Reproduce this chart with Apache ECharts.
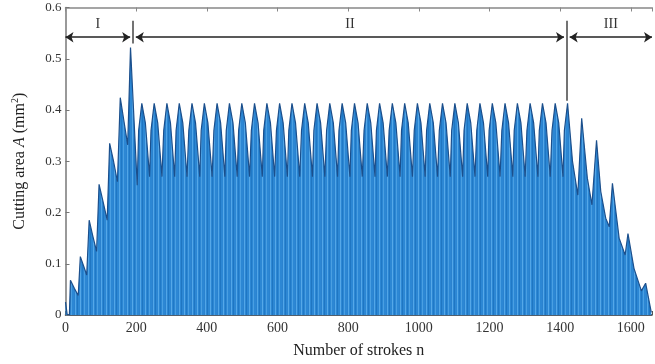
<!DOCTYPE html>
<html>
<head>
<meta charset="utf-8">
<script src="https://cdn.jsdelivr.net/npm/echarts@6/dist/echarts.min.js"></script>
<style>
html,body{margin:0;padding:0;background:#fff;}
#chart{width:655px;height:364px;}
</style>
</head>
<body>
<div id="chart"></div>
<script>
// Key points of the cutting-area curve (stroke number n, area A in mm^2)
const strokeN = [
  0, 5, 11, 14, 25, 36, 42, 51, 60, 67, 77, 88, 95, 106, 118, 125, 136, 147, 155, 165, 176, 184, 194, 203, 207,
  216, 226, 238, 242,   251, 261, 273, 278,   287, 297, 309, 313,   322, 332, 344, 349,
  358, 368, 380, 384,   393, 403, 415, 420,   429, 439, 451, 455,   464, 474, 486, 490,
  499, 509, 521, 526,   535, 545, 557, 561,   570, 580, 592, 597,   606, 616, 628, 632,
  641, 651, 663, 668,   677, 687, 699, 703,   712, 722, 734, 739,   748, 758, 770, 774,
  783, 793, 805, 809,   818, 828, 840, 845,   854, 864, 876, 880,   889, 899, 911, 916,
  925, 935, 947, 951,   960, 970, 982, 987,   996, 1006, 1018, 1022, 1031, 1041, 1053, 1058,
  1067, 1077, 1089, 1093, 1102, 1112, 1124, 1128, 1137, 1147, 1159, 1164, 1173, 1183, 1195, 1199,
  1208, 1218, 1230, 1235, 1244, 1254, 1266, 1270, 1279, 1289, 1301, 1306, 1315, 1325, 1337, 1341,
  1350, 1360, 1372, 1377, 1386, 1396, 1408, 1412,
  1421, 1435, 1450, 1461, 1477, 1490, 1503, 1515, 1529, 1539, 1548, 1567, 1584, 1592, 1609, 1630, 1642, 1658
];
const cutArea = [
  0.025, 0, 0, 0.068, 0.052, 0.038, 0.114, 0.096, 0.078, 0.185, 0.155, 0.124, 0.255, 0.222, 0.185, 0.335, 0.300, 0.260, 0.424, 0.380, 0.332, 0.522, 0.380, 0.253, 0.36,
  0.413, 0.375, 0.27, 0.36,   0.413, 0.375, 0.27, 0.36,   0.413, 0.375, 0.27, 0.36,   0.413, 0.375, 0.27, 0.36,
  0.413, 0.375, 0.27, 0.36,   0.413, 0.375, 0.27, 0.36,   0.413, 0.375, 0.27, 0.36,   0.413, 0.375, 0.27, 0.36,
  0.413, 0.375, 0.27, 0.36,   0.413, 0.375, 0.27, 0.36,   0.413, 0.375, 0.27, 0.36,   0.413, 0.375, 0.27, 0.36,
  0.413, 0.375, 0.27, 0.36,   0.413, 0.375, 0.27, 0.36,   0.413, 0.375, 0.27, 0.36,   0.413, 0.375, 0.27, 0.36,
  0.413, 0.375, 0.27, 0.36,   0.413, 0.375, 0.27, 0.36,   0.413, 0.375, 0.27, 0.36,   0.413, 0.375, 0.27, 0.36,
  0.413, 0.375, 0.27, 0.36,   0.413, 0.375, 0.27, 0.36,   0.413, 0.375, 0.27, 0.36,   0.413, 0.375, 0.27, 0.36,
  0.413, 0.375, 0.27, 0.36,   0.413, 0.375, 0.27, 0.36,   0.413, 0.375, 0.27, 0.36,   0.413, 0.375, 0.27, 0.36,
  0.413, 0.375, 0.27, 0.36,   0.413, 0.375, 0.27, 0.36,   0.413, 0.375, 0.27, 0.36,   0.413, 0.375, 0.27, 0.36,
  0.413, 0.375, 0.27, 0.36,   0.413, 0.375, 0.27, 0.36,
  0.413, 0.30, 0.234, 0.384, 0.267, 0.215, 0.341, 0.241, 0.189, 0.172, 0.257, 0.15, 0.117, 0.159, 0.091, 0.047, 0.062, 0.005
];
// Stage boundaries (stroke number) and stage labels
const stageBounds = [0, 191, 1419, 1660];
const stageLabels = ['I', 'II', 'III'];
const boundTopA = 0.574;
const boundPeakA = [0.53, 0.418];
const arrowA = 0.542;
const xTicks = [0, 1600, 200];
const yTicks = [0, 0.6, 0.1];

const serif = '"Liberation Serif", "DejaVu Serif", serif';
const data = strokeN.map((n, i) => [n, cutArea[i]]);

// striped fill texture (imitates the dense bar rendering of the original)
const pat = document.createElement('canvas');
pat.width = 13; pat.height = 4;
const pc = pat.getContext('2d');
const cols = ['#2c87d4', '#2c87d4', '#55a8e8', '#2c87d4', '#2079c6', '#2c87d4', '#4a9fe2',
              '#2c87d4', '#2c87d4', '#2a82cf', '#52a6e7', '#2c87d4', '#1f76c2'];
cols.forEach((c, i) => { pc.fillStyle = c; pc.fillRect(i, 0, 1, 4); });

const arrowLines = [];
for (let i = 0; i < stageLabels.length; i++) {
  const a = stageBounds[i] + (i === 0 ? 0 : 8);
  const b = stageBounds[i + 1] - (i === stageLabels.length - 1 ? 0 : 8);
  arrowLines.push([
    {coord: [a, arrowA], label: {formatter: stageLabels[i]}},
    {coord: [b, arrowA]}
  ]);
}
const boundLines = [
  [{coord: [stageBounds[1], boundTopA]}, {coord: [stageBounds[1], boundPeakA[0]]}],
  [{coord: [stageBounds[2], boundTopA]}, {coord: [stageBounds[2], boundPeakA[1]]}]
];

const chart = echarts.init(document.getElementById('chart'), null, {renderer: 'canvas'});
chart.setOption({
  animation: false,
  backgroundColor: '#fff',
  grid: {left: 65.5, right: 0, top: 7.5, bottom: 49},
  xAxis: [{
    type: 'value', min: 0, max: 1660, interval: xTicks[2],
    name: 'Number of strokes n', nameLocation: 'middle', nameGap: 28,
    nameTextStyle: {fontFamily: serif, fontSize: 16, color: '#222'},
    axisLine: {lineStyle: {color: '#1d2b3a', width: 1.5}},
    axisTick: {inside: true, length: 4, lineStyle: {color: '#555'}},
    axisLabel: {fontFamily: serif, fontSize: 14, color: '#333', margin: 6,
      formatter: v => v <= xTicks[1] ? String(v) : ''},
    splitLine: {show: false}
  }, {
    type: 'value', position: 'top', min: 0, max: 1660, interval: xTicks[2],
    axisLine: {lineStyle: {color: '#888', width: 1.5}},
    axisTick: {inside: true, length: 4, lineStyle: {color: '#888'}},
    axisLabel: {show: false},
    splitLine: {show: false}
  }],
  yAxis: {
    type: 'value', min: yTicks[0], max: yTicks[1], interval: yTicks[2],
    name: 'Cutting area {i|A} (mm{sup|2})', nameLocation: 'middle', nameGap: 36,
    nameRotate: 90,
    nameTextStyle: {fontFamily: serif, fontSize: 16, color: '#222',
      rich: {
        i: {fontFamily: serif, fontSize: 16, fontStyle: 'italic', color: '#222'},
        sup: {fontFamily: serif, fontSize: 10, color: '#222', padding: [0, 0, 9, 0]}
      }},
    axisLine: {show: true, lineStyle: {color: '#777', width: 1.5}},
    axisTick: {show: true, inside: true, length: 4, lineStyle: {color: '#777'}},
    axisLabel: {fontFamily: serif, fontSize: 13, color: '#333', margin: 4,
      formatter: v => v === 0 ? '0' : v.toFixed(1)},
    splitLine: {show: false}
  },
  series: [{
    type: 'line', data: data, symbol: 'none', smooth: false,
    lineStyle: {color: '#1b4f8c', width: 1.2},
    areaStyle: {color: {image: pat, repeat: 'repeat'}, opacity: 1},
    z: 2
  }, {
    type: 'line', data: [], silent: true,
    markLine: {
      silent: true, symbol: ['arrow', 'arrow'], symbolSize: 8,
      lineStyle: {color: '#222', width: 1.5, type: 'solid'},
      label: {show: true, position: 'insideMiddleTop', distance: 6,
        fontFamily: serif, fontSize: 14, color: '#333'},
      data: arrowLines
    }
  }, {
    type: 'line', data: [], silent: true,
    markLine: {
      silent: true, symbol: ['none', 'none'],
      lineStyle: {color: '#444', width: 1.5, type: 'solid'},
      label: {show: false},
      data: boundLines
    }
  }]
});
</script>
</body>
</html>
